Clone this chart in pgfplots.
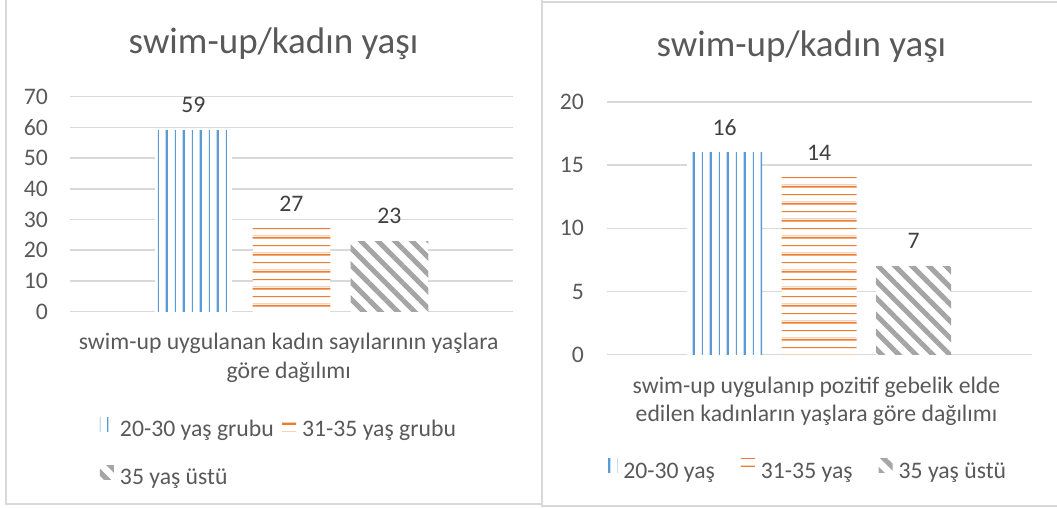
\documentclass[border=0pt]{standalone}
\usepackage{fontspec}
\setmainfont{Carlito}
\usepackage{pgfplots}
\pgfplotsset{compat=1.18}
\usetikzlibrary{patterns.meta}
\definecolor{tc}{HTML}{595959}
\definecolor{lc}{HTML}{404040}
\definecolor{gridc}{HTML}{D9D9D9}
\definecolor{cblue}{HTML}{5B9BD5}
\definecolor{corange}{HTML}{ED7D31}
\definecolor{cgray}{HTML}{A5A5A5}
\newcommand{\fs}{\fontsize{23.7}{29}\selectfont}
\newcommand{\tf}{\fontsize{37}{44}\selectfont}
\tikzdeclarepattern{
  name=xvert,
  type=uncolored,
  bounding box={(0pt,0pt) and (17pt,204pt)},
  tile size={(17pt,204pt)},
  code={
    \pgfpathrectangle{\pgfqpoint{5.15pt}{-1pt}}{\pgfqpoint{1.1pt}{206pt}}
    \pgfpathrectangle{\pgfqpoint{13.15pt}{-1pt}}{\pgfqpoint{2.3pt}{206pt}}
    \pgfusepath{fill}
  }
}
\tikzdeclarepattern{
  name=xhoriz,
  type=uncolored,
  bounding box={(0pt,0pt) and (204pt,17pt)},
  tile size={(204pt,17pt)},
  code={
    \pgfpathrectangle{\pgfqpoint{-1pt}{7.15pt}}{\pgfqpoint{206pt}{1.1pt}}
    \pgfpathrectangle{\pgfqpoint{-1pt}{15.05pt}}{\pgfqpoint{206pt}{1.95pt}}
    \pgfpathrectangle{\pgfqpoint{-1pt}{0pt}}{\pgfqpoint{206pt}{0.35pt}}
    \pgfusepath{fill}
  }
}
\pgfplotsset{
  chartbase/.style={
    scale only axis,
    anchor=south west,
    ymin=0,
    xtick=\empty,
    axis line style={draw=none},
    major tick length=0pt,
    ymajorgrids,
    grid style={draw=gridc, line width=1.5pt},
    /pgf/number format/assume math mode=true,
    yticklabel style={font=\fs, text=tc, anchor=east, inner sep=0pt},
    nodes near coords,
    every node near coord/.append style={font=\fs, text=lc, anchor=base, inner sep=0pt, yshift=17.5pt},
    legend style={draw=none, fill=none, inner sep=0pt, outer sep=0pt, font=\fs, text=tc,
      anchor=north west,
      nodes={inner sep=0pt, outer sep=0pt, text height=16pt, text depth=5pt}},
    legend cell align=left,
    clip=false,
  },
  patlegend/.style={legend image code/.code={\path[##1] (0pt,0pt) rectangle (14pt,14pt); \path (20pt,0pt);}},
  sblue/.style={ybar, bar shift=0pt, draw=none, fill=white, postaction={pattern=xvert, pattern color=cblue}, patlegend},
  sorange/.style={ybar, bar shift=0pt, draw=none, fill=white, postaction={pattern=xhoriz, pattern color=corange}, patlegend},
  sgray/.style={ybar, bar shift=0pt, draw=none, fill=white, postaction={pattern={Lines[angle=-45, distance=12pt, line width=5pt]}, pattern color=cgray}, patlegend},
}
\begin{document}
\begin{tikzpicture}[x=1pt, y=1pt]
\useasboundingbox (0,0) rectangle (1057,508);
\clip (0,0) rectangle (1057,508);
% chart frames
\draw[gridc, line width=1.5pt] (6,4) rectangle (542,520);
\draw[gridc, line width=1.5pt] (542,2) rectangle (1070,506);

\begin{axis}[chartbase,
  at={(69.9pt,196.3pt)},
  width=443.1pt, height=215.1pt,
  xmin=-221.55, xmax=221.55,
  ymax=70, ytick={0,10,...,70},
  yticklabel style={xshift=-21.9pt},
  bar width=77.7pt,
  legend columns=2,
  legend style={at={(0.0679,-0.4909)}, row sep=23.4pt,
    /tikz/every even column/.append style={column sep=8.4pt}},
]
\addplot[sblue] coordinates {(-98,59)};
\addplot[sorange] coordinates {(0,27)};
\addplot[sgray] coordinates {(98,23)};
\legend{20-30 yaş grubu, 31-35 yaş grubu, 35 yaş üstü}
\end{axis}

\begin{axis}[chartbase,
  at={(606.7pt,153.3pt)},
  width=425pt, height=252.7pt,
  xmin=-212.5, xmax=212.5,
  ymax=20, ytick={0,5,...,20},
  yticklabel style={xshift=-22.7pt},
  bar width=75pt,
  legend columns=3,
  legend style={at={(-0.008,-0.4127)},
    /tikz/every even column/.append style={column sep=26pt}},
]
\addplot[sblue] coordinates {(-94.5,16)};
\addplot[sorange] coordinates {(0,14)};
\addplot[sgray] coordinates {(94.5,7)};
\legend{20-30 yaş, 31-35 yaş, 35 yaş üstü}
\end{axis}

% titles
\node[font=\tf, text=tc, anchor=base, inner sep=0pt] at (273.6,454.7) {swim-up/kadın yaşı};
\node[font=\tf, text=tc, anchor=base, inner sep=0pt] at (801.4,451) {swim-up/kadın yaşı};
% category labels
\node[font=\fs, text=tc, anchor=base, inner sep=0pt] at (288.7,158) {swim-up uygulanan kadın sayılarının yaşlara};
\node[font=\fs, text=tc, anchor=base, inner sep=0pt] at (288.7,129) {göre dağılımı};
\node[font=\fs, text=tc, anchor=base, inner sep=0pt] at (816.5,114) {swim-up uygulanıp pozitif gebelik elde};
\node[font=\fs, text=tc, anchor=base, inner sep=0pt] at (816.5,86.3) {edilen kadınların yaşlara göre dağılımı};
\end{tikzpicture}
\end{document}
